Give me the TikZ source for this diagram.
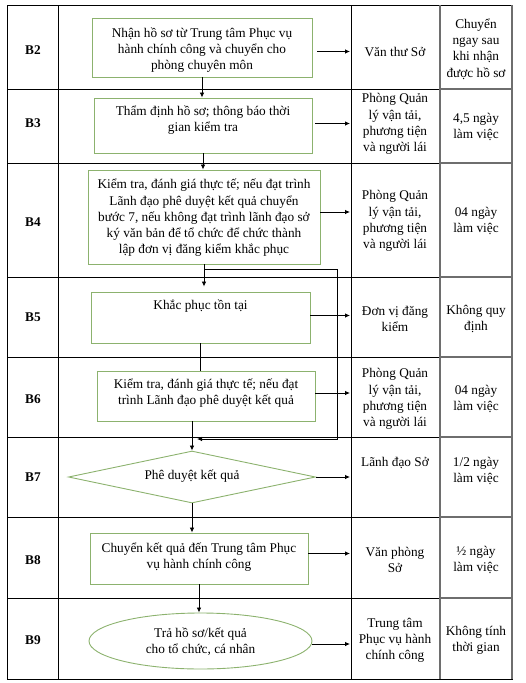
\documentclass[tikz,border=0pt]{standalone}
\usepackage{fontspec}
\setmainfont{Liberation Serif}
\usetikzlibrary{shapes.geometric,arrows.meta}
\definecolor{boxgreen}{RGB}{140,178,110}
\definecolor{tgrey}{RGB}{110,110,110}
\begin{document}
\begin{tikzpicture}[x=1pt,y=-1pt,
  every node/.style={font=\fontsize{13.3}{16.2}\selectfont, inner sep=0pt},
  box/.style={draw=boxgreen, line width=0.9pt, rectangle},
  txt/.style={align=center},
  lab/.style={font=\fontsize{13.3}{16}\selectfont\bfseries},
  arr/.style={line width=0.8pt, -{Latex[length=5pt,width=4.5pt]}},
  ln/.style={line width=0.8pt},
  tline/.style={line width=0.9pt, black},
  gline/.style={line width=1.6pt, tgrey}]
\useasboundingbox (0,0) rectangle (526,683);
% table
\draw[tline] (7,5) rectangle (512,679);
\foreach \y in {89,163,277,357,437,517,598} \draw[tline] (7,\y) -- (440,\y);
\foreach \y in {89,163,277,357,437,517,598} \draw[gline] (440,\y) -- (512,\y);
\draw[tline] (58,5) -- (58,679);
\draw[tline] (351,5) -- (351,679);
\draw[gline] (440,5) -- (440,679);
\draw[gline] (512,5) -- (512,679);
\coordinate (c2) at (350,0);
% labels
\node[lab] (l2) at (33,50) {B2};
\node[lab] (l3) at (33,123) {B3};
\node[lab] (l4) at (33,222) {B4};
\node[lab] (l5) at (33,317) {B5};
\node[lab] (l6) at (33,399) {B6};
\node[lab] (l7) at (33,477) {B7};
\node[lab] (l8) at (33,560) {B8};
\node[lab] (l9) at (33,640) {B9};
% shapes
\node[box, minimum width=220pt, minimum height=59pt] (b2) at (202,47.5) {};
\node[txt] at (202,50) {Nhận hồ sơ từ Trung tâm Phục vụ\\hành chính công và chuyển cho\\phòng chuyên môn};
\node[box, minimum width=218pt, minimum height=55pt] (b3) at (203,125.5) {};
\node[txt] at (203,120) {Thẩm định hồ sơ; thông báo thời\\gian kiểm tra};
\node[box, minimum width=232pt, minimum height=94pt] (b4) at (204,217) {};
\node[txt] at (204,218) {Kiểm tra, đánh giá thực tế; nếu đạt trình\\Lãnh đạo phê duyệt kết quả chuyển\\bước 7, nếu không đạt trình lãnh đạo sở\\ký văn bản để tổ chức để chức thành\\lập đơn vị đăng kiểm khắc phục};
\node[box, minimum width=219pt, minimum height=51pt] (b5) at (200.5,317.5) {};
\node[txt] at (200.5,306) {Khắc phục tồn tại};
\node[box, minimum width=218pt, minimum height=50pt] (b6) at (206,396) {};
\node[txt] at (206,393) {Kiểm tra, đánh giá thực tế; nếu đạt\\trình Lãnh đạo phê duyệt kết quả};
\node[draw=boxgreen, line width=0.9pt, diamond, minimum width=247pt, minimum height=52pt] (b7) at (192,477) {};
\node[txt] at (192,476) {Phê duyệt kết quả};
\node[box, minimum width=218pt, minimum height=51pt] (b8) at (199,558.5) {};
\node[txt] at (199,557) {Chuyển kết quả đến Trung tâm Phục\\vụ hành chính công};
\node[draw=boxgreen, line width=0.9pt, ellipse, minimum width=223pt, minimum height=56pt] (b9) at (200.5,641) {};
\node[txt] at (200.5,642) {Trả hồ sơ/kết quả\\cho tổ chức, cá nhân};
% column 2
\node[txt] (r2) at (395,52) {Văn thư Sở};
\node[txt] (r3) at (395,124) {Phòng Quản\\lý vận tải,\\phương tiện\\và người lái};
\node[txt] (r4) at (395,221) {Phòng Quản\\lý vận tải,\\phương tiện\\và người lái};
\node[txt] (r5) at (395,319) {Đơn vị đăng\\kiểm};
\node[txt] (r6) at (395,399) {Phòng Quản\\lý vận tải,\\phương tiện\\và người lái};
\node[txt] (r7) at (395,463) {Lãnh đạo Sở};
\node[txt] (r8) at (395,560) {Văn phòng\\Sở};
\node[txt] (r9) at (395,640) {Trung tâm\\Phục vụ hành\\chính công};
% column 3
\node[txt] (t2) at (476,49) {Chuyển\\ngay sau\\khi nhận\\được hồ sơ};
\node[txt] (t3) at (476,127) {4,5 ngày\\làm việc};
\node[txt] (t4) at (476,221) {04 ngày\\làm việc};
\node[txt] (t5) at (476,319) {Không quy\\định};
\node[txt] (t6) at (476,399) {04 ngày\\làm việc};
\node[txt] (t7) at (476,471) {1/2 ngày\\làm việc};
\node[txt] (t8) at (476,560) {½ ngày\\làm việc};
\node[txt] (t9) at (476,640) {Không tính\\thời gian};
% horizontal arrows
\draw[arr, shorten <=5pt] (b2.east) ++(0,4) coordinate (a2) -- (a2 -| c2);
\draw[arr, shorten <=3pt] (b3.east) ++(0,-2) coordinate (a3) -- (a3 -| c2);
\draw[arr] (b4.east) ++(0,-5) coordinate (a4) -- (a4 -| c2);
\draw[arr] (b5.east) ++(0,-2) coordinate (a5) -- (a5 -| c2);
\draw[arr] (b6.east) ++(0,-3) coordinate (a6) -- (a6 -| c2);
\draw[arr] (b7.east) -- (b7.east -| c2);
\draw[arr] (b8.east) ++(0,-5) coordinate (a8) -- (a8 -| c2);
\draw[arr] (b9.east) ++(0,3) coordinate (a9) -- (a9 -| c2);
% vertical connectors
\draw[arr] (b2.south) -- (b2.south |- b3.north);
\draw[arr] (b3.south) -- (b3.south |- b4.north);
\draw[arr, shorten >=5pt] (b4.south) -- (b4.south |- b5.north);
\draw[ln] (b5.south) -- (b5.south |- b6.north);
\draw[arr] (b7.north |- b6.south) -- (b7.north);
\draw[arr] (b7.south) -- (b7.south |- b8.north);
\draw[arr] (b8.south) -- (b8.south |- b9.north);
% loop from B4 to B7
\coordinate (lp1) at (337,269);
\coordinate (lp2) at (337,439);
\coordinate (lp3) at (197,439);
\draw[arr] (b4.south |- lp1) -- (lp1) -- (lp2) -- (lp3);
\end{tikzpicture}
\end{document}
